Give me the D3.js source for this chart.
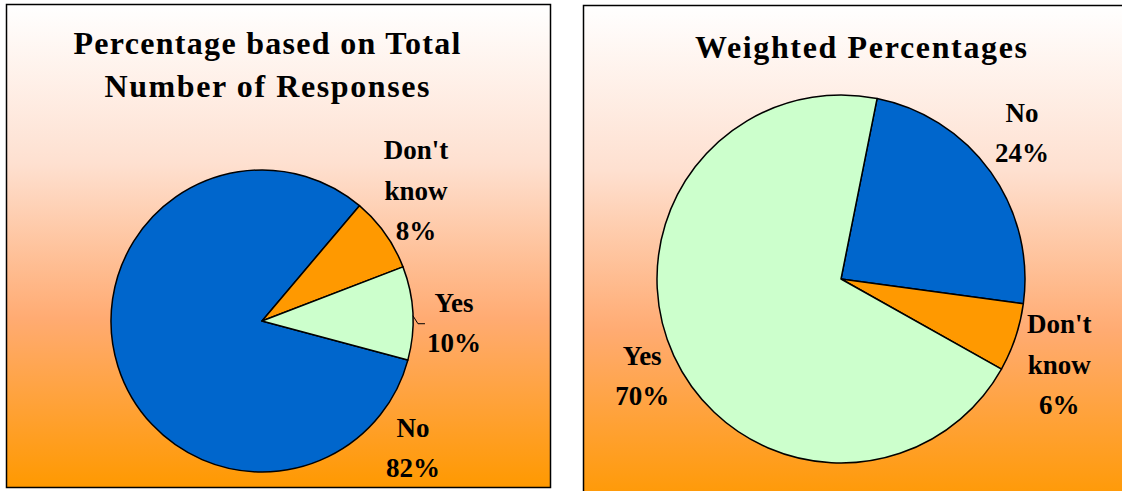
<!DOCTYPE html>
<html>
<head>
<meta charset="utf-8">
<script src="https://cdn.jsdelivr.net/npm/d3@7"></script>
<style>
  html, body { margin: 0; padding: 0; background: #fff; }
  svg { display: block; }
  text { font-family: "Liberation Serif", "DejaVu Serif", serif; font-weight: bold; fill: #000; }
</style>
</head>
<body>
<svg id="chart"></svg>
<script>
const width = 1122;
const height = 491;

// data
const categories = ["No", "Don't know", "Yes"];
const totalPct = [82, 8, 10];
const weightedPct = [24, 6, 70];
const labelLines = [["No"], ["Don't", "know"], ["Yes"]];
const leftTitle = ["Percentage based on Total", "Number of Responses"];
const rightTitle = ["Weighted Percentages"];

const colors = d3.scaleOrdinal()
  .domain(categories)
  .range(["#0066cc", "#ff9900", "#ccffcc"]);

const svg = d3.select("#chart")
  .attr("width", width)
  .attr("height", height)
  .attr("viewBox", [0, 0, width, height]);

// background gradient white -> salmon -> orange
const grad = svg.append("defs").append("linearGradient")
  .attr("id", "bg")
  .attr("x1", 0).attr("y1", 0).attr("x2", 0).attr("y2", 1);
[[0, "#ffffff"], [0.33, "#fee0d0"], [0.65, "#ffab72"], [1, "#ff9900"]].forEach(([o, c]) => {
  grad.append("stop").attr("offset", o).attr("stop-color", c);
});

const rad = deg => deg * Math.PI / 180;
const polar = (cx, cy, a, r) => [cx + r * Math.sin(rad(a)), cy - r * Math.cos(rad(a))];

const panels = [
  {
    box: [6.5, 4.5, 544, 483],
    title: leftTitle, titleX: 267, titleY: 54, titleW: [387, 325],
    values: totalPct,
    cx: 262, cy: 321, r: 151, start: 105,
    // [angle, distance] of each label block, per category
    labels: [[131, 200], [50.7, 199], [91.8, 192]],
    leader: true
  },
  {
    box: [583.5, 5.5, 545, 500],
    title: rightTitle, titleX: 861, titleY: 58, titleW: [332],
    values: weightedPct,
    cx: 841, cy: 279, r: 184, start: 11.3,
    labels: [[51.9, 230], [112.4, 236], [243.1, 223]],
    leader: false
  }
];

const lineH = 40.5;

panels.forEach(p => {
  const g = svg.append("g");

  g.append("rect")
    .attr("x", p.box[0]).attr("y", p.box[1])
    .attr("width", p.box[2]).attr("height", p.box[3])
    .attr("fill", "url(#bg)")
    .attr("stroke", "#000")
    .attr("stroke-width", 1.5);

  p.title.forEach((t, i) => {
    g.append("text")
      .attr("text-anchor", "middle")
      .attr("font-size", 32)
      .attr("x", p.titleX)
      .attr("y", p.titleY + i * 43)
      .attr("textLength", p.titleW[i])
      .attr("lengthAdjust", "spacing")
      .text(t);
  });

  const pie = d3.pie()
    .sort(null)
    .value(d => d.value)
    .startAngle(rad(p.start))
    .endAngle(rad(p.start + 360));

  const arcs = pie(categories.map((c, i) => ({ name: c, value: p.values[i] })));
  const arc = d3.arc().innerRadius(0).outerRadius(p.r);

  g.append("g")
    .attr("transform", `translate(${p.cx},${p.cy})`)
    .selectAll("path")
    .data(arcs)
    .join("path")
      .attr("d", arc)
      .attr("fill", d => colors(d.data.name))
      .attr("stroke", "#000")
      .attr("stroke-width", 1.5)
      .attr("stroke-linejoin", "round");

  arcs.forEach((a, i) => {
    const lines = labelLines[i].concat([p.values[i] + "%"]);
    const [lx, ly] = polar(p.cx, p.cy, p.labels[i][0], p.labels[i][1]);
    const y0 = ly - (lines.length - 1) * lineH / 2 + 5;
    g.append("text")
      .attr("text-anchor", "middle")
      .attr("font-size", 27)
      .selectAll("tspan")
      .data(lines)
      .join("tspan")
        .attr("x", lx)
        .attr("y", (d, j) => y0 + j * lineH)
        .text(d => d);
  });

  if (p.leader) {
    // small leader line to the "Yes" label
    const s = polar(p.cx, p.cy, 88, p.r);
    const e = polar(p.cx, p.cy, 91, p.r + 5);
    g.append("path")
      .attr("d", d3.line()([s, e, [e[0] + 7, e[1]]]))
      .attr("fill", "none")
      .attr("stroke", "#000")
      .attr("stroke-width", 1);
  }
});
</script>
</body>
</html>
